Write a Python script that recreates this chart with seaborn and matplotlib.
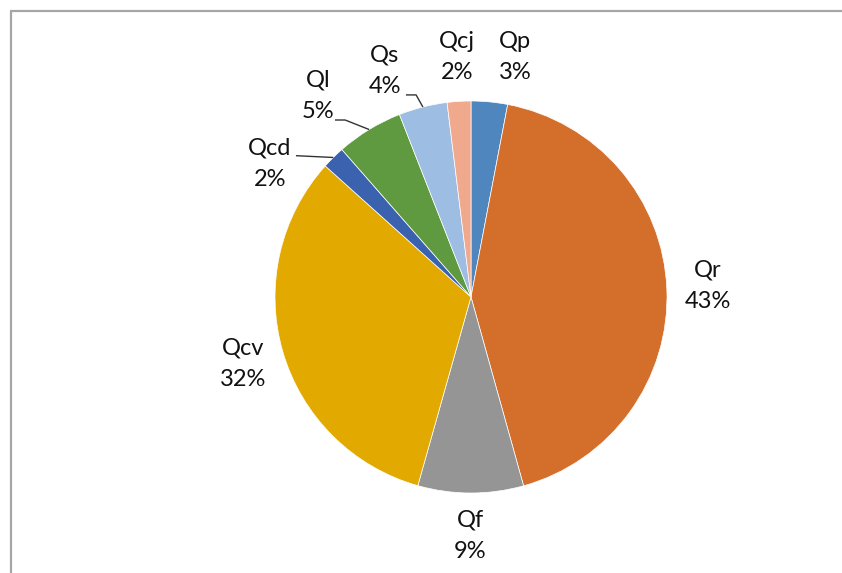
import numpy as np
import matplotlib
matplotlib.use("Agg")
import matplotlib.pyplot as plt
from matplotlib.lines import Line2D
import seaborn as sns

# flow components, clockwise from 12 o'clock
labels = ["Qp", "Qr", "Qf", "Qcv", "Qcd", "Ql", "Qs", "Qcj"]
shares = [3.0, 42.7, 8.7, 32.3, 1.9, 5.5, 4.0, 1.95]
pct_text = ["3%", "43%", "9%", "32%", "2%", "5%", "4%", "2%"]
colors = ["#4F86BE", "#D46E2B", "#959595", "#E2AA00",
          "#3B62AE", "#5F9A40", "#9DBDE2", "#F0A98C"]

# label placement (data units, pie radius = 1) and which ones get leader lines
label_pos = {"Qp": (0.224, 1.224), "Qr": (1.209, 0.056), "Qf": (-0.005, -1.219),
             "Qcv": (-1.163, -0.342), "Qcd": (-1.026, 0.679), "Ql": (-0.781, 1.026),
             "Qs": (-0.439, 1.153), "Qcj": (-0.071, 1.224)}
leaders = {"Qcd": (-0.893, 0.721), "Ql": (-0.694, 0.903), "Qs": (-0.332, 1.031)}

sns.set_theme(style="white")
plt.rcParams["font.family"] = ["Lato", "DejaVu Sans"]

fig = plt.figure(figsize=(8.42, 5.73), dpi=100)
ax = fig.add_axes([0, 0, 1, 1])

wedges, _ = ax.pie(shares, colors=colors, startangle=90, counterclock=False,
                   radius=1.0, center=(0, 0), frame=True,
                   wedgeprops=dict(edgecolor="white", linewidth=0.5))
ax.set_xlim(-471 / 196, (842 - 471) / 196)
ax.set_ylim(-(573 - 297) / 196, 297 / 196)
ax.set_aspect("equal")
ax.axis("off")

for w, lab, pt in zip(wedges, labels, pct_text):
    x, y = label_pos[lab]
    ax.text(x, y, f"{lab}\n{pt}", ha="center", va="center", fontsize=17,
            linespacing=1.6, color="#111111")
    if lab in leaders:
        mid = np.deg2rad((w.theta1 + w.theta2) / 2)
        ex, ey = np.cos(mid), np.sin(mid)
        sx, sy = leaders[lab]
        if lab == "Qcd":
            xs, ys = [sx, ex], [sy, ey]
        else:
            kx = sx + 0.052
            xs, ys = [sx, kx, ex], [sy, sy, ey]
        ax.plot(xs, ys, color="#333333", lw=1.0, solid_capstyle="butt")

# outer chart-area frame (only top and left edges visible)
fig.add_artist(Line2D([11 / 842, 1], [1 - 11 / 573, 1 - 11 / 573],
                      transform=fig.transFigure, color="#A6A6A6", lw=1.6))
fig.add_artist(Line2D([11 / 842, 11 / 842], [0, 1 - 11 / 573],
                      transform=fig.transFigure, color="#A6A6A6", lw=1.6))

fig.savefig("out.png", dpi=100)
